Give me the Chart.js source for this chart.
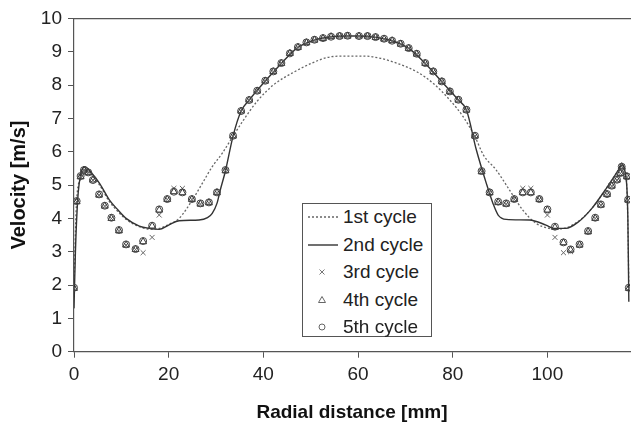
<!DOCTYPE html>
<html>
<head>
<meta charset="utf-8">
<script src="https://cdn.jsdelivr.net/npm/chart.js@4.4.1/dist/chart.umd.min.js"></script>
<style>
  html, body { margin: 0; padding: 0; background: #fff; overflow: hidden; }
  #wrap { position: relative; width: 635px; height: 426px; }
  #legend {
    position: absolute; left: 302px; top: 203px; width: 130px; height: 134px;
    border: 1px solid #555; background: #fff; box-sizing: border-box;
    font-family: 'Liberation Sans', Arial, sans-serif; font-size: 19px; color: #222;
  }
  #legend .row { position: absolute; left: 0; height: 27px; line-height: 27px; }
  #legend .row span { position: absolute; left: 40px; white-space: nowrap; }
  #legend svg { position: absolute; left: 5px; top: 6px; }
</style>
</head>
<body>
<div id="wrap">
  <canvas id="velocityChart" width="635" height="426"></canvas>
  <div id="legend">
    <div class="row" style="top:-1px"><svg width="30" height="16"><line x1="0" y1="8" x2="30" y2="8" stroke="#666" stroke-width="1.3" stroke-dasharray="2,2"/></svg><span>1st cycle</span></div>
    <div class="row" style="top:26.5px"><svg width="30" height="16"><line x1="0" y1="8" x2="30" y2="8" stroke="#333" stroke-width="1.4"/></svg><span>2nd cycle</span></div>
    <div class="row" style="top:54px"><svg width="30" height="16"><path d="M11.5 5.5 L16.5 10.5 M16.5 5.5 L11.5 10.5" stroke="#777" stroke-width="1"/></svg><span>3rd cycle</span></div>
    <div class="row" style="top:81.5px"><svg width="30" height="16"><path d="M14 4.5 L17.5 10.5 L10.5 10.5 Z" fill="none" stroke="#666" stroke-width="1"/></svg><span>4th cycle</span></div>
    <div class="row" style="top:109px"><svg width="30" height="16"><circle cx="14" cy="8" r="3" fill="none" stroke="#666" stroke-width="1"/></svg><span>5th cycle</span></div>
  </div>
</div>
<script>
// radial positions of the measured points (mm), shared by cycles 3-5
const radialPos = [0, 0.56, 1.4, 2.1, 3.0, 4.0, 5.3, 6.5, 7.9, 9.5,
  11.0, 13.0, 14.6, 16.5, 18.0, 19.7, 21.1, 22.9, 24.9, 26.7,
  28.5, 30.2, 32.0, 33.6, 35.3, 37.0, 38.7, 40.4, 42.1, 43.8,
  45.6, 47.3, 49.1, 50.8, 52.6, 54.3, 56.1, 57.8, 60.2, 62.0,
  63.7, 65.5, 67.2, 69.0, 70.7, 72.4, 74.2, 75.9, 77.7, 79.4,
  81.2, 82.9, 84.7, 86.1, 87.8, 89.6, 91.3, 93.0, 94.8, 96.5,
  98.3, 100.0, 101.6, 103.4, 104.9, 106.8, 108.6, 110.1, 111.3, 112.6,
  113.6, 114.7, 115.4, 115.7, 116.8, 117.05, 117.2];

const cycle3 = [1.90, 4.50, 5.25, 5.45, 5.37, 5.15, 4.70, 4.37, 4.00, 3.63,
  3.20, 3.07, 2.97, 3.43, 4.10, 4.57, 4.90, 4.90, 4.57, 4.43,
  4.47, 4.77, 5.43, 6.47, 7.22, 7.55, 7.82, 8.12, 8.40, 8.65,
  8.95, 9.13, 9.27, 9.35, 9.40, 9.45, 9.47, 9.47, 9.47, 9.47,
  9.43, 9.38, 9.33, 9.23, 9.10, 8.93, 8.65, 8.40, 8.10, 7.80,
  7.55, 7.25, 6.47, 5.40, 4.77, 4.48, 4.43, 4.57, 4.90, 4.90,
  4.57, 4.10, 3.43, 2.97, 3.00, 3.20, 3.60, 4.00, 4.40, 4.72,
  4.97, 5.15, 5.35, 5.55, 5.25, 4.55, 1.90];

const cycle4 = [1.90, 4.50, 5.25, 5.45, 5.37, 5.15, 4.70, 4.37, 4.00, 3.63,
  3.20, 3.07, 3.30, 3.77, 4.25, 4.57, 4.80, 4.77, 4.57, 4.43,
  4.47, 4.77, 5.43, 6.47, 7.22, 7.55, 7.82, 8.12, 8.40, 8.65,
  8.95, 9.13, 9.27, 9.35, 9.40, 9.45, 9.47, 9.47, 9.47, 9.47,
  9.43, 9.38, 9.33, 9.23, 9.10, 8.93, 8.65, 8.40, 8.10, 7.80,
  7.55, 7.25, 6.47, 5.40, 4.77, 4.48, 4.43, 4.57, 4.77, 4.77,
  4.57, 4.25, 3.73, 3.27, 3.05, 3.20, 3.60, 4.00, 4.40, 4.72,
  4.97, 5.15, 5.35, 5.55, 5.25, 4.55, 1.90];

const cycle5 = [1.92, 4.52, 5.27, 5.45, 5.38, 5.15, 4.72, 4.38, 4.02, 3.65,
  3.22, 3.08, 3.32, 3.78, 4.27, 4.58, 4.80, 4.78, 4.58, 4.45,
  4.48, 4.78, 5.45, 6.48, 7.22, 7.55, 7.83, 8.13, 8.41, 8.66,
  8.95, 9.14, 9.28, 9.36, 9.41, 9.45, 9.47, 9.48, 9.47, 9.47,
  9.44, 9.39, 9.33, 9.24, 9.11, 8.94, 8.66, 8.41, 8.11, 7.81,
  7.56, 7.26, 6.48, 5.42, 4.78, 4.50, 4.45, 4.58, 4.78, 4.78,
  4.58, 4.27, 3.75, 3.28, 3.07, 3.22, 3.62, 4.02, 4.42, 4.73,
  4.98, 5.16, 5.36, 5.55, 5.26, 4.56, 1.92];

// 1st cycle (dotted line)
const line1Pos = [0, 0.5, 1.4, 2.3, 3.5, 5.4, 7.5, 9.3, 11.0, 13.8,
  16.0, 18.0, 20.0, 22.2, 25.0, 27.1, 29.2, 31.3, 33.3, 35.8,
  38.6, 42.1, 46.6, 50.1, 53.6, 57.1, 61.3, 64.8, 68.3, 72.4,
  75.9, 79.4, 82.2, 84.7, 86.5, 89.2, 92.0, 94.8, 97.6, 100.4,
  102.0, 104.0, 106.6, 109.4, 112.2, 115.0, 115.7, 116.6, 117.05, 117.2];
const cycle1 = [1.90, 4.40, 5.20, 5.45, 5.35, 5.00, 4.50, 4.20, 3.97, 3.75,
  3.68, 3.70, 3.82, 4.00, 4.55, 5.05, 5.55, 5.95, 6.40, 6.95,
  7.50, 8.00, 8.40, 8.65, 8.83, 8.87, 8.87, 8.80, 8.65, 8.40,
  8.05, 7.55, 7.05, 6.45, 5.90, 5.45, 4.85, 4.25, 3.85, 3.70,
  3.68, 3.72, 3.92, 4.30, 4.85, 5.45, 5.60, 5.30, 3.50, 1.90];

// 2nd cycle (solid line)
const line2Pos = [0, 0.3, 0.8, 1.4, 2.3, 3.5, 5.4, 7.5, 9.3, 11.0,
  13.8, 15.9, 18.0, 20.0, 22.2, 26.4, 28.2, 29.2, 30.2, 30.9,
  32.0, 33.6, 35.3, 37.0, 40.4, 43.8, 47.3, 50.8, 54.3, 57.8,
  60.2, 63.7, 67.2, 70.7, 74.2, 77.7, 81.2, 82.9, 85.0, 87.1,
  88.5, 89.6, 91.3, 96.2, 99.7, 101.4, 103.9, 106.6, 109.4, 112.2,
  115.0, 115.7, 116.5, 117.0, 117.2];
const cycle2 = [1.30, 3.00, 4.60, 5.30, 5.55, 5.40, 5.05, 4.55, 4.25, 4.00,
  3.77, 3.70, 3.67, 3.80, 3.93, 3.95, 4.02, 4.15, 4.45, 4.85,
  5.43, 6.47, 7.22, 7.55, 8.12, 8.65, 9.13, 9.35, 9.45, 9.47,
  9.47, 9.43, 9.33, 9.10, 8.65, 8.10, 7.55, 7.25, 6.05, 5.05,
  4.45, 4.10, 3.97, 3.95, 3.80, 3.70, 3.70, 3.90, 4.30, 4.85,
  5.45, 5.60, 5.30, 4.00, 1.50];

const yTicks = [0, 1, 2, 3, 4, 5, 6, 7, 8, 9, 10];
const xTicks = [0, 20, 40, 60, 80, 100];

function toPoints(xs, ys) {
  return xs.map((x, i) => ({ x: x, y: ys[i] }));
}

function velocityChart() {
  const axisColor = '#555';
  const tickFont = { family: "'Liberation Sans', Arial, sans-serif", size: 19 };
  const titleFont = { family: "'Liberation Sans', Arial, sans-serif", size: 19, weight: 'bold' };

  const data = {
    datasets: [
      {
        label: '3rd cycle',
        data: toPoints(radialPos, cycle3),
        pointStyle: 'crossRot',
        pointRadius: 3.5,
        borderColor: '#666',
        borderWidth: 1,
        showLine: false,
        order: 3
      },
      {
        label: '4th cycle',
        data: toPoints(radialPos, cycle4),
        pointStyle: 'triangle',
        pointRadius: 4,
        borderColor: '#333',
        backgroundColor: 'rgba(255,255,255,0)',
        borderWidth: 1,
        showLine: false,
        order: 2
      },
      {
        label: '5th cycle',
        data: toPoints(radialPos, cycle5),
        pointStyle: 'circle',
        pointRadius: 3.5,
        borderColor: '#444',
        backgroundColor: 'rgba(255,255,255,0)',
        borderWidth: 1,
        showLine: false,
        order: 1
      },
      {
        label: '1st cycle',
        data: toPoints(line1Pos, cycle1),
        showLine: true,
        pointRadius: 0,
        borderColor: '#666',
        borderWidth: 1.3,
        borderDash: [2, 2],
        cubicInterpolationMode: 'monotone',
        order: 5
      },
      {
        label: '2nd cycle',
        data: toPoints(line2Pos, cycle2),
        showLine: true,
        pointRadius: 0,
        borderColor: '#333',
        borderWidth: 1.4,
        cubicInterpolationMode: 'monotone',
        order: 4
      }
    ]
  };

  const options = {
    responsive: false,
    animation: false,
    devicePixelRatio: 1,
    layout: { padding: 0 },
    plugins: {
      legend: { display: false },
      tooltip: { enabled: false }
    },
    scales: {
      x: {
        type: 'linear',
        position: 'bottom',
        min: 0,
        max: 117.45,
        afterBuildTicks: (axis) => { axis.ticks = xTicks.map(v => ({ value: v })); },
        afterFit: (axis) => { axis.height = 74.3; },
        ticks: { font: tickFont, color: '#222', padding: 6, maxRotation: 0 },
        grid: { drawOnChartArea: false, drawTicks: true, tickLength: 6, color: axisColor },
        border: { display: true, color: axisColor, width: 1.2 },
        title: { display: true, text: 'Radial distance [mm]', font: titleFont, color: '#111', padding: { top: 0, bottom: 2 } }
      },
      xTop: {
        type: 'linear',
        position: 'top',
        min: 0,
        max: 117.45,
        afterFit: (axis) => { axis.height = 18.4; },
        ticks: { display: false },
        grid: { display: false },
        border: { display: true, color: axisColor, width: 1.2 }
      },
      y: {
        type: 'linear',
        min: 0,
        max: 10,
        afterBuildTicks: (axis) => { axis.ticks = yTicks.map(v => ({ value: v })); },
        afterFit: (axis) => { axis.width = 74; },
        ticks: { font: tickFont, color: '#222', padding: 6 },
        grid: { drawOnChartArea: false, drawTicks: true, tickLength: 6, color: axisColor },
        border: { display: true, color: axisColor, width: 1.2 },
        title: { display: true, text: 'Velocity [m/s]', font: { ...titleFont, size: 20 }, color: '#111', padding: { top: 7, bottom: 0 } }
      }
    }
  };

  //config
  const config = {
    type: 'scatter',
    data,
    options
  };

  const chart = new Chart(
    document.getElementById('velocityChart'),
    config
  );
}

velocityChart();
</script>
</body>
</html>
